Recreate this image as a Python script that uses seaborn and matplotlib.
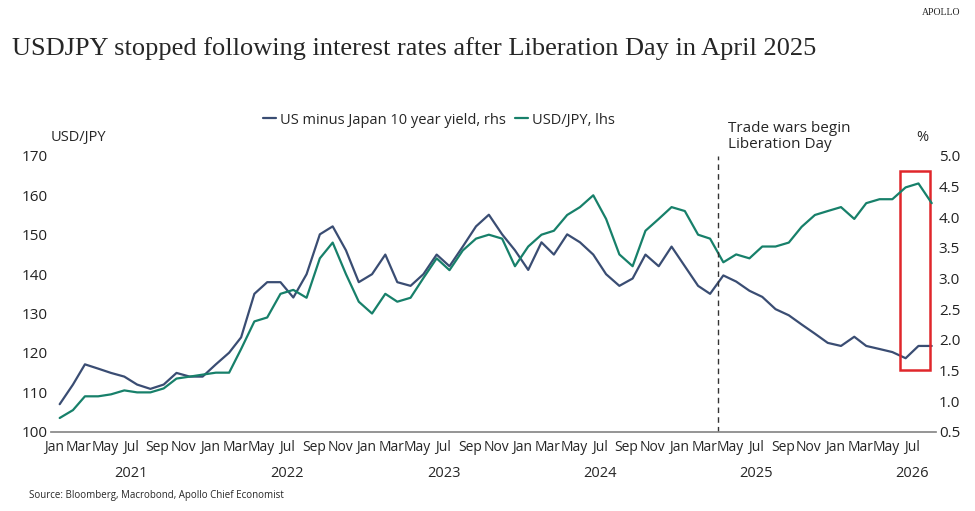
import matplotlib
matplotlib.use("Agg")
import matplotlib.pyplot as plt
import matplotlib.dates as mdates
from matplotlib.patches import Rectangle
from matplotlib.lines import Line2D
import seaborn as sns
import pandas as pd
import numpy as np

sns.set_theme(style="white")
plt.rcParams['font.family'] = ['Open Sans', 'DejaVu Sans']

dates = pd.date_range("2021-01-01", periods=68, freq="MS") + pd.Timedelta(days=14)
usdjpy = [103.5,105.5,109,109,109.5,110.5,110,110,111,113.5,114,114.5,
          115,115,121,128,129,135,136,134,144,148,140,133,
          130,135,133,134,139,144,141,146,149,150,149,142,
          147,150,151,155,157,160,154,145,142,151,154,157,
          156,150,149,143,145,144,147,147,148,152,155,156,
          157,154,158,159,159,162,163,158]
spread = [0.95,1.27,1.6,1.53,1.46,1.4,1.27,1.2,1.27,1.46,1.4,1.4,
          1.6,1.79,2.04,2.75,2.94,2.94,2.69,3.07,3.72,3.85,3.46,2.94,
          3.07,3.39,2.94,2.88,3.07,3.39,3.2,3.52,3.85,4.04,3.72,3.46,
          3.14,3.59,3.39,3.72,3.59,3.39,3.07,2.88,3.0,3.39,3.2,3.52,
          3.2,2.88,2.75,3.05,2.95,2.8,2.7,2.5,2.4,2.25,2.1,1.95,
          1.9,2.05,1.9,1.85,1.8,1.7,1.9,1.9]
df = pd.DataFrame({"date": dates, "usdjpy": usdjpy, "spread": spread})

blue = "#3a4d73"
green = "#17806a"

fig = plt.figure(figsize=(9.75, 5.11), dpi=100)
ax = fig.add_axes([0.052, 0.155, 0.908, 0.54])
ax2 = ax.twinx()
sns.lineplot(data=df, x="date", y="spread", ax=ax2, color=blue, lw=1.6)
sns.lineplot(data=df, x="date", y="usdjpy", ax=ax, color=green, lw=1.6)
ax.set_zorder(2); ax.patch.set_visible(False)

ax.set_ylim(100, 170); ax2.set_ylim(0.5, 5.0)
ax.set_yticks(range(100, 171, 10)); ax2.set_yticks(np.arange(0.5, 5.01, 0.5))
ax2.set_yticklabels([f"{v:.1f}" for v in np.arange(0.5, 5.01, 0.5)])
ax.set_xlim(pd.Timestamp("2020-12-25"), pd.Timestamp("2026-08-25"))
for a in (ax, ax2):
    a.set_xlabel(""); a.set_ylabel("")
    for s in ("top", "left", "right"):
        a.spines[s].set_visible(False)
    a.tick_params(axis="y", length=0, labelsize=11, colors="#222222", pad=2)
ax2.spines["bottom"].set_visible(False)
ax.spines["bottom"].set_color("#888888")
ax.xaxis.set_major_locator(mdates.MonthLocator(bymonth=[1, 3, 5, 7, 9, 11]))
ax.xaxis.set_major_formatter(mdates.DateFormatter("%b"))
ax.xaxis.set_minor_locator(mdates.MonthLocator())
ax.tick_params(axis="x", which="both", direction="in", length=4, color="#888888", labelsize=10, pad=6)
for y in range(2021, 2027):
    ax.text(pd.Timestamp(f"{y}-07-01"), -0.125, str(y), transform=ax.get_xaxis_transform(),
            ha="center", va="top", fontsize=10.5)

lib = pd.Timestamp("2025-04-02")
ax.axvline(lib, color="#333333", ls=(0, (4, 3)), lw=1)
ax.text(lib + pd.Timedelta(days=25), 171, "Trade wars begin\nLiberation Day", fontsize=11, va="bottom",
        linespacing=1.1, clip_on=False)
ax2.add_patch(Rectangle((pd.Timestamp("2026-06-01"), 1.5), pd.Timedelta(days=70), 3.25,
                        fill=False, ec="#e0262b", lw=1.8, clip_on=False, zorder=5))

ax.text(0, 1.04, "USD/JPY", transform=ax.transAxes, fontsize=10.5, ha="left", va="bottom")
ax2.text(0.985, 1.04, "%", transform=ax.transAxes, fontsize=10.5, ha="center", va="bottom")

h = [Line2D([], [], color=blue, lw=1.6), Line2D([], [], color=green, lw=1.6)]
fig.legend(h, ["US minus Japan 10 year yield, rhs", "USD/JPY, lhs"], loc="center",
           bbox_to_anchor=(0.45, 0.765), ncol=2, frameon=False, fontsize=10.5,
           handlelength=0.9, columnspacing=0.6, handletextpad=0.3)

fig.text(0.012, 0.905, "USDJPY stopped following interest rates after Liberation Day in April 2025",
         family=["Liberation Serif"], fontsize=19, ha="left", va="center")
fig.text(0.985, 0.975, "APOLLO", family=["Liberation Serif"], fontsize=7, ha="right", va="center")
fig.text(0.03, 0.025, "Source: Bloomberg, Macrobond, Apollo Chief Economist", fontsize=7, ha="left")
fig.savefig("out.png", dpi=100)
